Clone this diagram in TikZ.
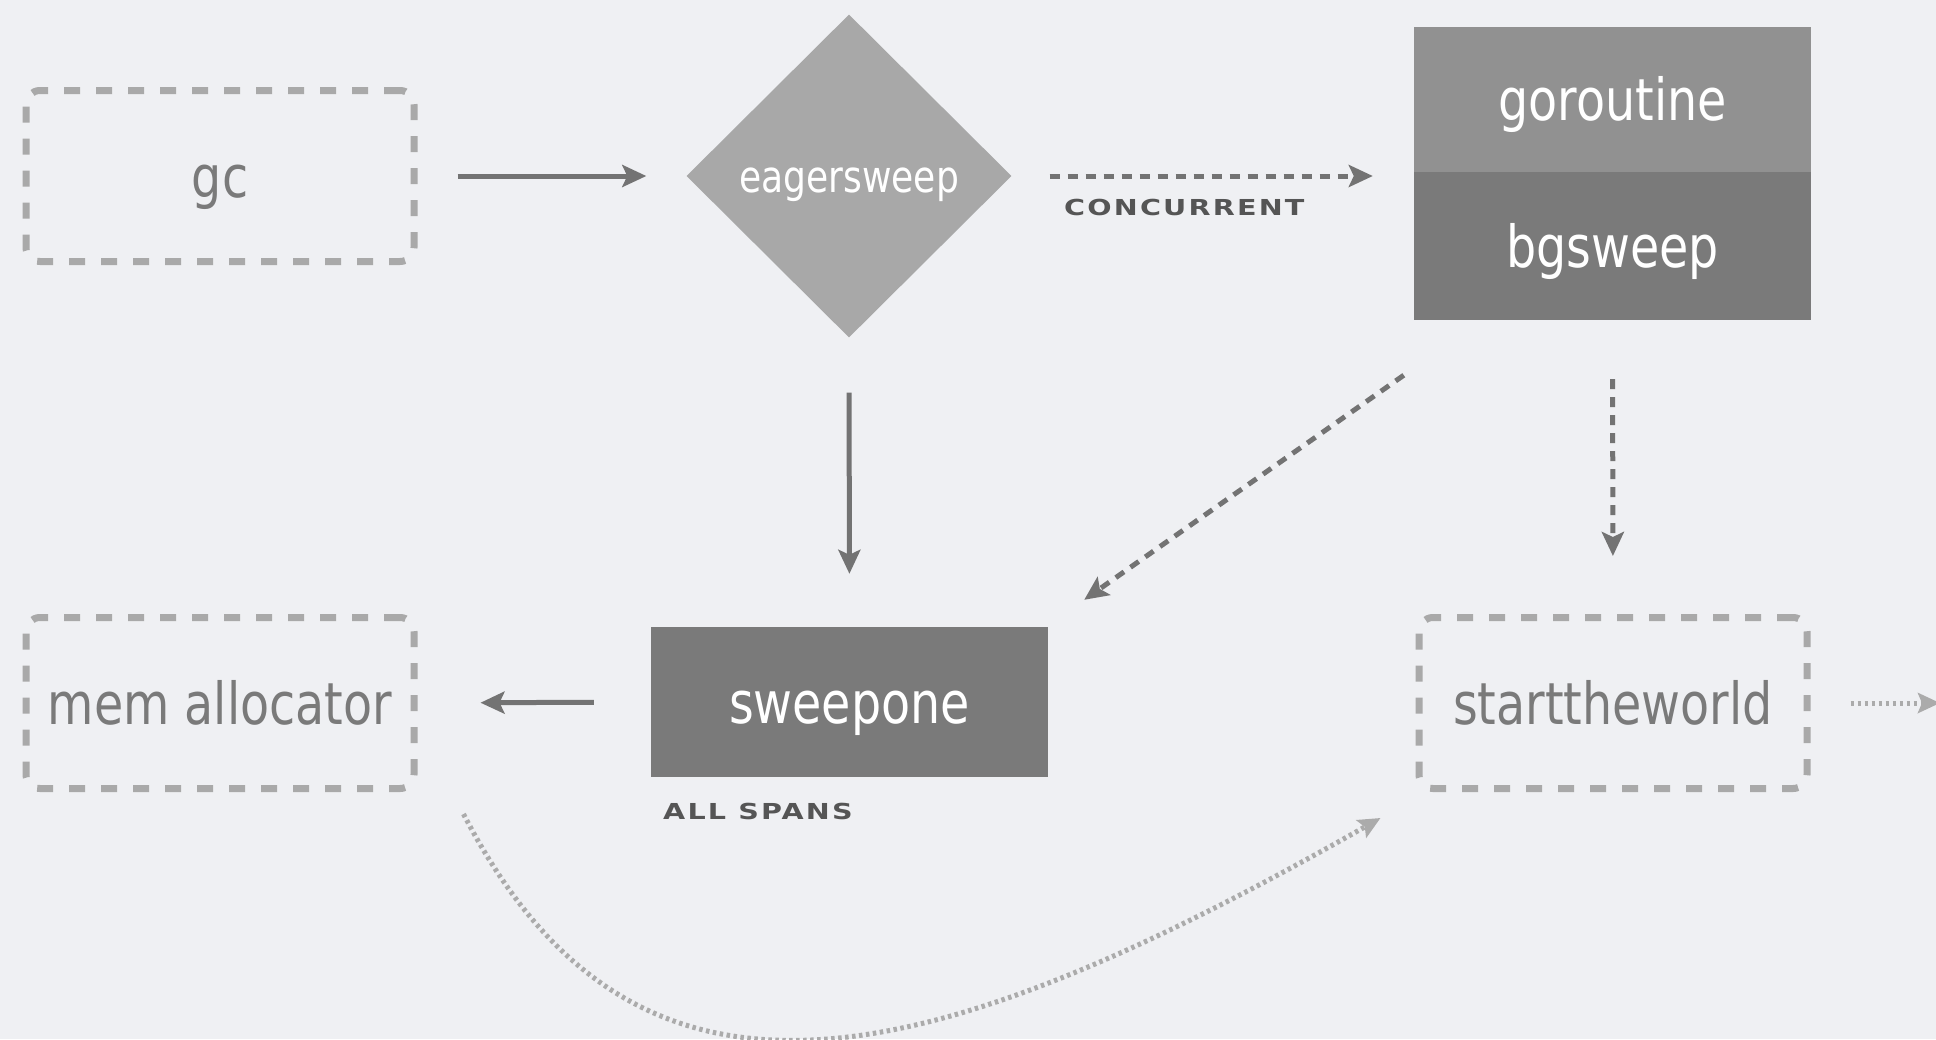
\documentclass[tikz,border=0pt]{standalone}
\usepackage{fontspec}
\setmainfont{DejaVu Sans}[FakeStretch=0.82]
\newfontfamily\tagfont{DejaVu Sans Bold}[FakeStretch=1.3,LetterSpace=10]
\usetikzlibrary{shapes.geometric,arrows.meta}
\definecolor{bgcol}{HTML}{EFF0F3}
\definecolor{boxline}{HTML}{A9A9A9}
\definecolor{boxtext}{HTML}{7A7A7A}
\definecolor{diafill}{HTML}{A8A8A8}
\definecolor{topfill}{HTML}{919191}
\definecolor{darkfill}{HTML}{7A7A7A}
\definecolor{arrowcol}{HTML}{737373}
\definecolor{dotcol}{HTML}{ABABAB}
\definecolor{tagcol}{HTML}{555555}
\begin{document}
\begin{tikzpicture}[x=1pt,y=-1pt,
        dashbox/.style={draw=boxline, line width=7pt, dash pattern=on 16pt off 16pt,
            rounded corners=14pt, minimum width=388pt, minimum height=171pt,
            text=boxtext, text height=42pt, text depth=0pt, font=\fontsize{58}{60}\selectfont},
        solidbox/.style={fill=#1, minimum width=397pt, text=white, text height=42pt,
            text depth=0pt, font=\fontsize{58}{60}\selectfont},
        choice/.style={diamond, fill=diafill, minimum width=325pt, minimum height=323pt,
            inner sep=0pt, text=white, text height=32pt, text depth=0pt,
            font=\fontsize{44}{46}\selectfont},
        tag/.style={inner sep=0pt, anchor=west, text=tagcol,
            font=\tagfont\fontsize{22}{24}\selectfont},
        flow/.style={draw=arrowcol, line width=5pt, -{Stealth[length=24pt,width=22pt,inset=5pt]}},
        dashflow/.style={flow, dash pattern=on 10pt off 8pt},
        dotflow/.style={draw=dotcol, line width=5pt, dash pattern=on 3.5pt off 3.5pt,
            -{Stealth[length=22pt,width=20pt,inset=4pt]}}
    ]
    \useasboundingbox (0,0) rectangle (1936,1039);
    \fill[bgcol] (0,0) rectangle (1936,1039);
    \node[dashbox] (gc) at (220,176) {gc};
    \node[choice] (es) at (849,176) {eagersweep};
    \node[solidbox=topfill, minimum height=145pt] (gr) at (1612.5,99.5) {goroutine};
    \node[solidbox=darkfill, minimum height=148pt] (bg) at (1612.5,246) {bgsweep};
    \node[solidbox=darkfill, minimum height=150pt] (sw) at (849.5,702) {sweepone};
    \node[dashbox] (ma) at (220,703) {mem allocator};
    \node[dashbox] (stw) at (1613,703) {starttheworld};
    \node[tag] (conc) at (1064,207) {CONCURRENT};
    \node[tag] (spans) at (663,811) {ALL SPANS};
    \coordinate (edge) at (1940,703);

    \draw[flow, shorten <=40pt, shorten >=40pt] (gc.east) -- (es.west);
    \draw[flow, shorten <=55pt, shorten >=53pt] (es.south) -- (sw.north);
    \draw[dashflow, shorten <=38pt, shorten >=41pt] (es.east) -- (es.east -| gr.west);
    \draw[dashflow] ([shift={(-10,55)}]bg.south west) -- ([shift={(36,-27)}]sw.north east);
    \draw[dashflow, shorten <=59pt, shorten >=58pt] (bg.south) -- (stw.north);
    \draw[flow, shorten <=57pt, shorten >=63pt] (sw.west) -- (ma.east);
    \draw[dotflow] ([shift={(46,22)}]ma.south east) .. controls (637,1151) and (928,1075) .. ([shift={(-35,26)}]stw.south west);
    \draw[dotflow, shorten <=40pt] (stw.east) -- (edge);
\end{tikzpicture}
\end{document}
